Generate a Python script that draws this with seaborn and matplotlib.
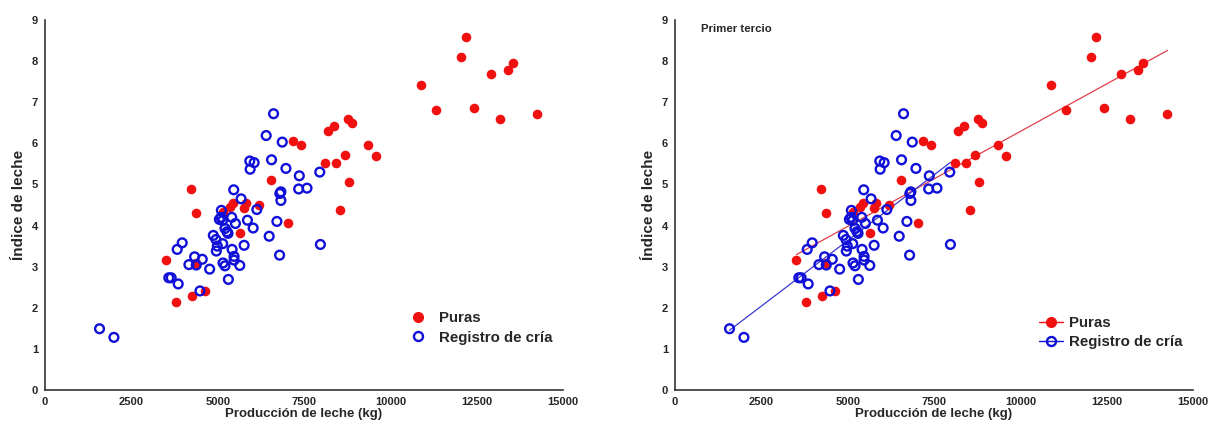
import matplotlib
matplotlib.use("Agg")
import matplotlib.pyplot as plt
from matplotlib.lines import Line2D
import numpy as np
import pandas as pd
import seaborn as sns

# Puras (filled red)
red_x = [12188, 12033, 10892, 12908, 13396, 13551, 11313, 12410, 13174, 14260,
         8786, 8886, 8376, 8188, 7190, 7423, 9352, 9573, 8687, 8111,
         8421, 8809, 8532, 6541, 7035, 6192, 5833, 5766, 5446, 5358,
         5165, 5640, 4225, 4380, 3517, 4361, 3789, 4264, 4642]
red_y = [8.58, 8.09, 7.42, 7.68, 7.78, 7.96, 6.82, 6.86, 6.59, 6.71,
         6.60, 6.50, 6.43, 6.30, 6.05, 5.96, 5.95, 5.69, 5.72, 5.52,
         5.52, 5.06, 4.39, 5.11, 4.07, 4.50, 4.56, 4.43, 4.54, 4.44,
         4.34, 3.82, 4.89, 4.30, 3.17, 3.10, 2.15, 2.29, 2.42]

# Registro de cria (open blue)
blue_x = [1579, 1996, 3585, 3653, 3857, 3828, 3973, 4167, 4332, 4380,
          4554, 4487, 4768, 4874, 4952, 4961, 4990, 5145, 5107, 5050,
          5100, 5140, 5213, 5271, 5300, 5155, 5213, 5310, 5417, 5475,
          5475, 5640, 5766, 5407, 5514, 5465, 5678, 5862, 6027, 6134,
          5930, 6056, 5940, 6405, 6618, 6560, 6870, 6977, 6492, 6715,
          6831, 6831, 6800, 6793, 7364, 7345, 7587, 7956, 7975]
blue_y = [1.49, 1.28, 2.73, 2.73, 2.58, 3.42, 3.58, 3.05, 3.24, 3.04,
          3.18, 2.41, 2.94, 3.76, 3.66, 3.38, 3.50, 3.56, 4.37, 4.15,
          4.20, 4.12, 3.93, 3.85, 3.81, 3.09, 3.02, 2.69, 3.42, 3.25,
          3.16, 3.03, 3.52, 4.20, 4.05, 4.87, 4.65, 4.13, 3.94, 4.39,
          5.57, 5.53, 5.37, 6.19, 6.72, 5.60, 6.03, 5.39, 3.74, 4.10,
          4.82, 4.61, 4.78, 3.28, 5.21, 4.89, 4.91, 5.30, 3.54]

labels = ["Puras", "Registro de cría"]
x_ticks = [0, 2500, 5000, 7500, 10000, 12500, 15000]
y_ticks = list(range(10))

red = pd.DataFrame({"x": red_x, "y": red_y})
blue = pd.DataFrame({"x": blue_x, "y": blue_y})

RED = "#f01010"
BLUE = "#1010d8"

sns.set_style("white")
plt.rcParams["font.family"] = ["Liberation Sans", "DejaVu Sans"]

fig = plt.figure(figsize=(12.09, 4.25), dpi=100)
ax1 = fig.add_axes([45 / 1209, 35 / 425, 518 / 1209, 370 / 425])
ax2 = fig.add_axes([675 / 1209, 35 / 425, 518 / 1209, 370 / 425])


def draw_points(ax):
    sns.scatterplot(data=red, x="x", y="y", ax=ax, color=RED, s=48,
                    linewidth=0, zorder=3)
    sns.scatterplot(data=blue, x="x", y="y", ax=ax, s=40,
                    facecolors="none", edgecolor=BLUE, linewidth=1.7,
                    zorder=4)


def style_axes(ax):
    ax.set_xlim(0, 15000)
    ax.set_ylim(0, 9)
    ax.set_xticks(x_ticks)
    ax.set_yticks(y_ticks)
    ax.set_xticklabels([str(t) for t in x_ticks], fontweight="bold", fontsize=8)
    ax.set_yticklabels([str(t) for t in y_ticks], fontweight="bold", fontsize=8)
    for side in ["top", "right"]:
        ax.spines[side].set_visible(False)
    for side in ["left", "bottom"]:
        ax.spines[side].set_color("#333333")
        ax.spines[side].set_linewidth(1.2)
    ax.tick_params(direction="out", length=3, width=1, color="#333333", pad=2)
    ax.set_xlabel("Producción de leche (kg)", fontweight="bold", fontsize=9.5,
                  labelpad=1)
    ax.set_ylabel("Índice de leche", fontweight="bold", fontsize=11, labelpad=4)


# left panel
draw_points(ax1)
style_axes(ax1)
h1 = [Line2D([], [], marker="o", ls="none", color=RED, markersize=7),
      Line2D([], [], marker="o", ls="none", markerfacecolor="none",
             markeredgecolor=BLUE, markeredgewidth=1.7, markersize=6.5)]
ax1.legend(h1, labels, loc="lower right", bbox_to_anchor=(1.005, 0.086),
           frameon=False, prop={"weight": "bold", "size": 10.8},
           handletextpad=0.4, labelspacing=0.35)

# right panel
draw_points(ax2)
sns.regplot(data=red, x="x", y="y", ax=ax2, scatter=False, ci=None,
            line_kws={"color": "#e0404a", "lw": 0.9, "zorder": 2})
sns.regplot(data=blue, x="x", y="y", ax=ax2, scatter=False, ci=None,
            line_kws={"color": "#3a3ad0", "lw": 0.9, "zorder": 2})
style_axes(ax2)
ax2.text(0.05, 0.99, "Primer tercio", transform=ax2.transAxes, ha="left",
         va="top", fontweight="bold", fontsize=8.2)
h2 = [Line2D([], [], marker="o", color=RED, markersize=7, lw=1),
      Line2D([], [], marker="o", color=BLUE, markerfacecolor="none",
             markeredgewidth=1.7, markersize=6.5, lw=1)]
ax2.legend(h2, labels, loc="lower right", bbox_to_anchor=(1.006, 0.074),
           frameon=False, prop={"weight": "bold", "size": 10.8},
           handlelength=1.6, handletextpad=0.4, labelspacing=0.35)

fig.savefig("out.png", dpi=100)
